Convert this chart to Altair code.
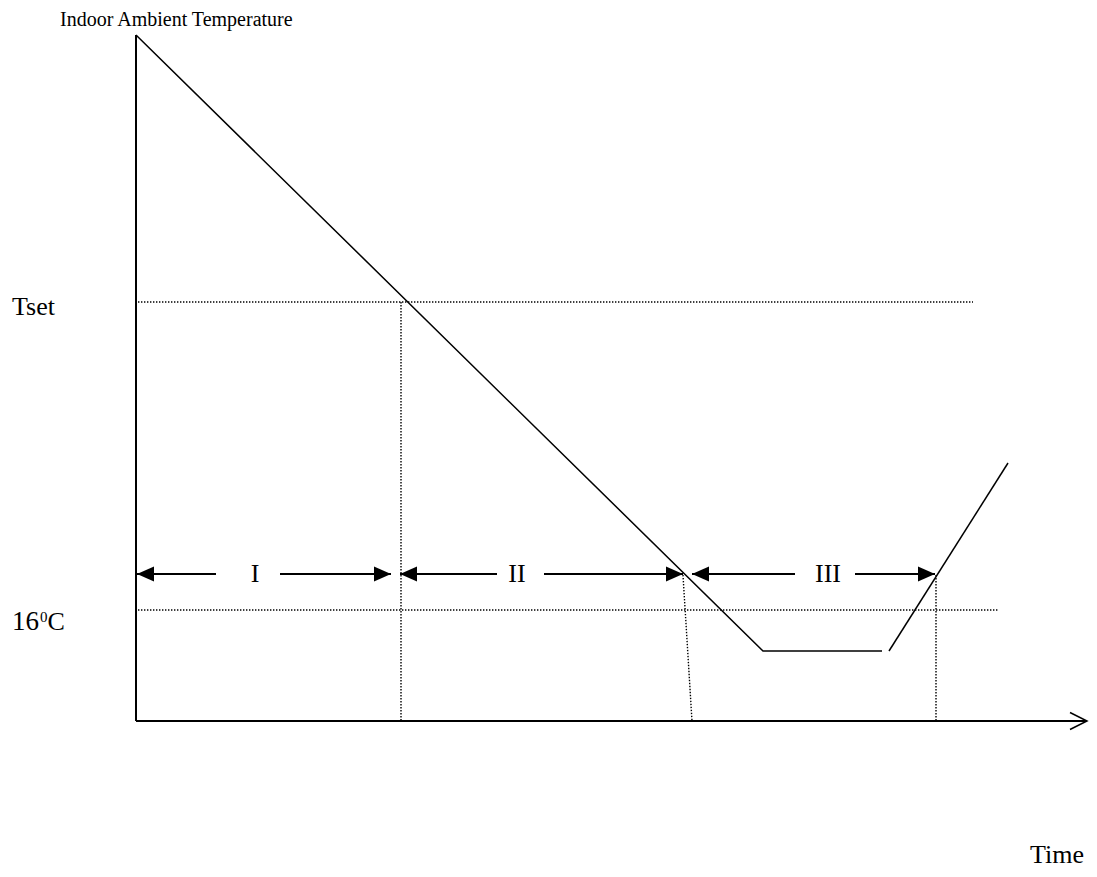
import altair as alt
import pandas as pd

# Diagram coordinates (page pixel units)
W, H = 1081, 861

# Indoor temperature trace (two pieces)
curve_x = [136, 763, 882, 889, 1008]
curve_y = [35, 651, 651, 651, 463]
curve_piece = [1, 1, 1, 2, 2]

# Axes (solid)
axis_x1 = [136, 136]
axis_y1 = [35, 721]
axis_x2 = [136, 1086]
axis_y2 = [721, 721]

# Dotted guide lines
guide_x1 = [138, 138, 401, 683, 936]
guide_y1 = [302, 610, 302, 575, 575]
guide_x2 = [973, 998, 401, 692, 936]
guide_y2 = [302, 610, 721, 721, 721]

# Phase arrows
arrow_row = 574
shaft_x1 = [137, 280, 400, 544, 692, 855]
shaft_x2 = [216, 391, 497, 683, 795, 935]
left_tips = [137, 400, 692]
right_tips = [391, 683, 935]
phase_labels = ["I", "II", "III"]
phase_x = [255, 517, 828]
phase_baseline = 582

# Text labels
label_text = ["Indoor Ambient Temperature", "Tset", "16", "0", "C", "Time"]
label_x = [60, 12, 12, 40, 47.5, 1030]
label_y = [26, 315, 630, 622, 630, 863]
label_size = [20, 26, 27, 15, 26, 26]

FONT = "Liberation Serif"

xs = alt.Scale(domain=[8, 8 + W], nice=False, zero=False)
ys = alt.Scale(domain=[8, 8 + H], nice=False, zero=False, reverse=True)

curve_df = pd.DataFrame({"x": curve_x, "y": curve_y, "piece": curve_piece,
                         "o": list(range(len(curve_x)))})
axis_df = pd.DataFrame({"x": axis_x1, "y": axis_y1, "x2": axis_x2, "y2": axis_y2})
guide_df = pd.DataFrame({"x": guide_x1, "y": guide_y1, "x2": guide_x2, "y2": guide_y2})
shaft_df = pd.DataFrame({"x": shaft_x1, "x2": shaft_x2, "y": [arrow_row] * len(shaft_x1)})
ltip_df = pd.DataFrame({"x": left_tips, "y": [arrow_row] * len(left_tips)})
rtip_df = pd.DataFrame({"x": right_tips, "y": [arrow_row] * len(right_tips)})
phase_df = pd.DataFrame({"x": phase_x, "y": [phase_baseline] * 3, "t": phase_labels})
label_df = pd.DataFrame({"x": label_x, "y": label_y, "t": label_text, "fs": label_size})
xhead_df = pd.DataFrame({"x": [1087], "y": [721]})

X = lambda: alt.X("x:Q", scale=xs, axis=None)
Y = lambda: alt.Y("y:Q", scale=ys, axis=None)

curve = alt.Chart(curve_df).mark_line(color="black", strokeWidth=1.5).encode(
    x=X(), y=Y(), detail="piece:N", order="o:Q")

axes = alt.Chart(axis_df).mark_rule(color="black", strokeWidth=2).encode(
    x=X(), y=Y(), x2="x2:Q", y2="y2:Q")

guides = alt.Chart(guide_df).mark_rule(color="black", strokeWidth=1.4, strokeDash=[1.4, 1.6]).encode(
    x=X(), y=Y(), x2="x2:Q", y2="y2:Q")

shafts = alt.Chart(shaft_df).mark_rule(color="black", strokeWidth=2).encode(
    x=X(), y=Y(), x2="x2:Q")

ltips = alt.Chart(ltip_df).mark_point(
    shape="M0,0 L1,-0.44 L1,0.44 Z", filled=True, color="black", opacity=1, size=1156
).encode(x=X(), y=Y())

rtips = alt.Chart(rtip_df).mark_point(
    shape="M0,0 L-1,-0.44 L-1,0.44 Z", filled=True, color="black", opacity=1, size=1156
).encode(x=X(), y=Y())

xhead = alt.Chart(xhead_df).mark_point(
    shape="M-1,-0.5 L0,0 L-1,0.5", filled=False, color="black", opacity=1,
    strokeWidth=1.5, size=1156
).encode(x=X(), y=Y())

phases = alt.Chart(phase_df).mark_text(
    font=FONT, fontSize=26, align="center", baseline="alphabetic", color="black"
).encode(x=X(), y=Y(), text="t:N")

labels = alt.Chart(label_df).mark_text(
    font=FONT, align="left", baseline="alphabetic", color="black"
).encode(x=X(), y=Y(), text="t:N", size=alt.Size("fs:Q", scale=None, legend=None))

chart = alt.layer(guides, axes, curve, shafts, ltips, rtips, xhead, phases, labels).properties(
    width=W, height=H, padding=0, background="white",
    autosize=alt.AutoSizeParams(type="none")
).configure_view(strokeWidth=0)

chart.save("out.html", embed_options={"renderer": "svg", "actions": False})
